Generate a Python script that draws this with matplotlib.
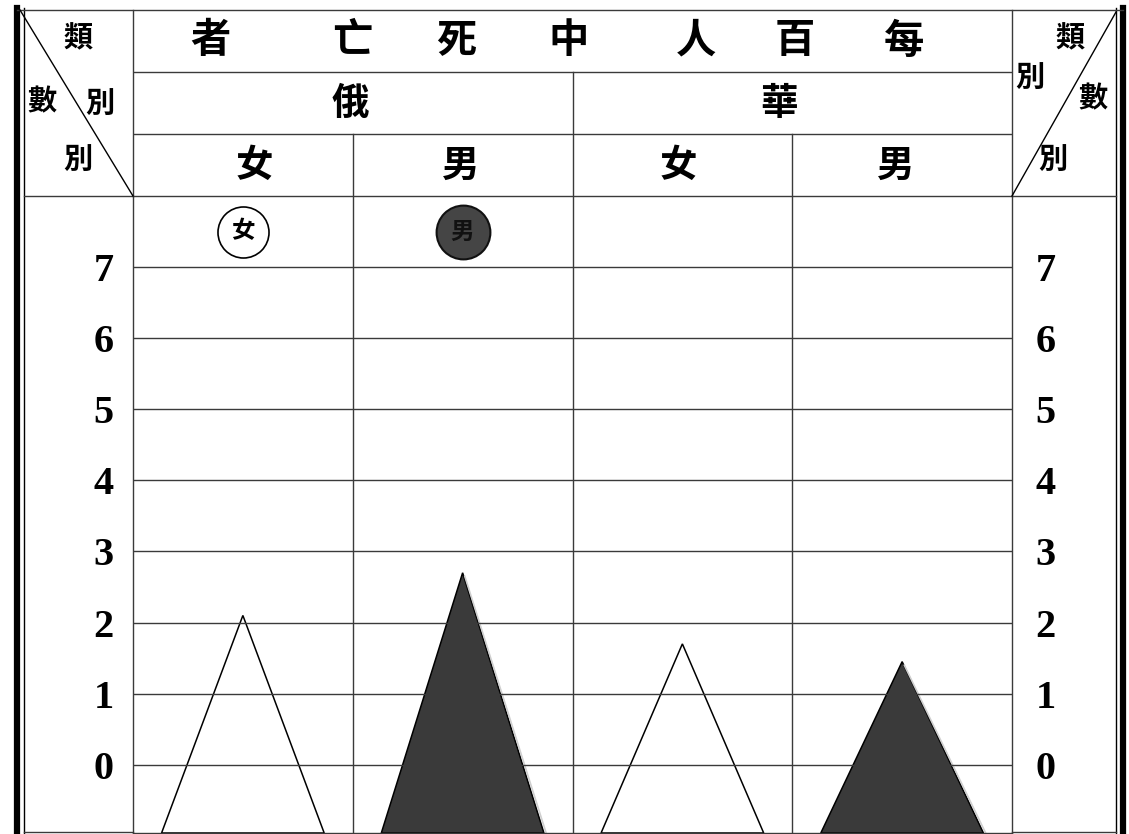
import matplotlib
matplotlib.use("Agg")
import matplotlib.pyplot as plt
from matplotlib.lines import Line2D

# ---- data ----
title_chars = ["者", "亡", "死", "中", "人", "百", "每"]   # read right-to-left: 每百人中死亡者
countries = ["俄", "華"]
sexes = ["女", "男", "女", "男"]
values = [2.1, 2.7, 1.7, 1.45]          # deaths per hundred
y_ticks = [0, 1, 2, 3, 4, 5, 6, 7]
tri_fill = ["white", "#3a3a3a", "white", "#3a3a3a"]

W, H = 1129, 834
fig = plt.figure(figsize=(W / 100, H / 100), dpi=100)
fig.patch.set_facecolor("white")

CJK = ["Noto Sans CJK TC", "DejaVu Sans"]
SERIF = ["Liberation Serif", "DejaVu Serif"]
LINE = "#3a3a3a"


def fx(px):
    return px / W


def fy(py):
    return 1 - py / H


def axrect(l, t, r, b):
    return [fx(l), fy(b), (r - l) / W, (b - t) / H]


# ---- main chart axes ----
ax = fig.add_axes(axrect(133, 196, 1012, 833))
ax.set_xlim(-0.5, 3.5)
ax.set_ylim(-0.96, 8.0)
xs = list(range(len(values)))
half = 0.37
for x, v, fc in zip(xs, values, tri_fill):
    ax.fill([x - half, x, x + half], [-0.96, v, -0.96], facecolor=fc,
            edgecolor="black", linewidth=1.1, zorder=2)
    if fc != "white":
        ax.plot([x + 0.01, x + half + 0.01], [v - 0.05, -0.96], color="#cfcfcf",
                lw=1.2, zorder=2.5)
for yv in y_ticks:
    ax.axhline(yv, color=LINE, lw=1.0, zorder=3)
for xb in [0.5, 1.5, 2.5]:
    ax.axvline(xb, color=LINE, lw=1.0, zorder=3)
for s in ax.spines.values():
    s.set_color(LINE)
    s.set_linewidth(1.0)
ax.set_xticks([])
ax.set_yticks(y_ticks)
ax.set_yticklabels([str(t) for t in y_ticks], fontfamily=SERIF,
                   fontweight="bold", fontsize=29)
ax.tick_params(axis="y", length=0, pad=14)
sec = ax.secondary_yaxis("right")
sec.set_yticks(y_ticks)
sec.set_yticklabels([str(t) for t in y_ticks], fontfamily=SERIF,
                    fontweight="bold", fontsize=29)
sec.tick_params(axis="y", length=0, pad=17)
sec.spines["right"].set_visible(False)

# legend circles in the 7-8 band
ax.scatter([0], [7.5], s=1350, facecolor="white", edgecolor="black",
           linewidth=1.2, zorder=4)
ax.text(0, 7.5, "女", ha="center", va="center", fontsize=17,
        fontfamily=CJK, fontweight="bold", zorder=5)
ax.scatter([1], [7.5], s=1500, facecolor="#454545", edgecolor="#111111",
           linewidth=1.5, zorder=4)
ax.text(1, 7.5, "男", ha="center", va="center", fontsize=17,
        fontfamily=CJK, fontweight="bold", color="#111111", zorder=5)

# ---- header axes ----
hx = fig.add_axes(axrect(133, 10, 1012, 196))
hx.set_xlim(-0.5, 3.5)
hx.set_ylim(0, 3)
hx.axis("off")
hx.plot([-0.5, 3.5], [2, 2], color=LINE, lw=1.0)
hx.plot([-0.5, 3.5], [1, 1], color=LINE, lw=1.0)
hx.plot([1.5, 1.5], [0, 2], color=LINE, lw=1.0)
hx.plot([0.5, 0.5], [0, 1], color=LINE, lw=1.0)
hx.plot([2.5, 2.5], [0, 1], color=LINE, lw=1.0)
title_x = [-0.15, 0.5, 0.97, 1.48, 2.06, 2.51, 3.01]
for ch, tx in zip(title_chars, title_x):
    hx.text(tx, 2.5, ch, ha="center", va="center", fontsize=29,
            fontfamily=CJK, fontweight="bold")
for ch, tx in zip(countries, [0.49, 2.44]):
    hx.text(tx, 1.5, ch, ha="center", va="center", fontsize=27,
            fontfamily=CJK, fontweight="bold")
for ch, tx in zip(sexes, [0.05, 0.99, 1.98, 2.97]):
    hx.text(tx, 0.5, ch, ha="center", va="center", fontsize=27,
            fontfamily=CJK, fontweight="bold")

# ---- frame and corner columns (figure coords) ----
def fline(xp, yp, **kw):
    fig.add_artist(Line2D([fx(v) for v in xp], [fy(v) for v in yp],
                          transform=fig.transFigure, **kw))

fline([17, 17], [8, 834], color="black", lw=4.5)
fline([24, 24], [8, 834], color="black", lw=1.0)
fline([1123, 1123], [8, 834], color="black", lw=4.5)
fline([1116, 1116], [8, 834], color="black", lw=1.0)
fline([17, 1123], [10, 10], color=LINE, lw=1.0)
fline([24, 133], [196, 196], color=LINE, lw=1.0)
fline([1012, 1116], [196, 196], color=LINE, lw=1.0)
fline([24, 133], [832, 832], color=LINE, lw=1.0)
fline([1012, 1116], [832, 832], color=LINE, lw=1.0)
fline([133, 133], [10, 196], color=LINE, lw=1.0)
fline([1012, 1012], [10, 196], color=LINE, lw=1.0)
fline([20, 133], [10, 196], color="black", lw=1.0)
fline([1116, 1012], [12, 196], color="black", lw=1.0)

corner = [("類", 78, 38), ("數", 42, 101), ("別", 100, 104), ("別", 78, 160),
          ("類", 1070, 38), ("別", 1030, 78), ("數", 1093, 98), ("別", 1053, 160)]
for ch, px, py in corner:
    fig.text(fx(px), fy(py), ch, ha="center", va="center", fontsize=21,
             fontfamily=CJK, fontweight="bold")

fig.savefig("out.png", dpi=100, facecolor="white")
